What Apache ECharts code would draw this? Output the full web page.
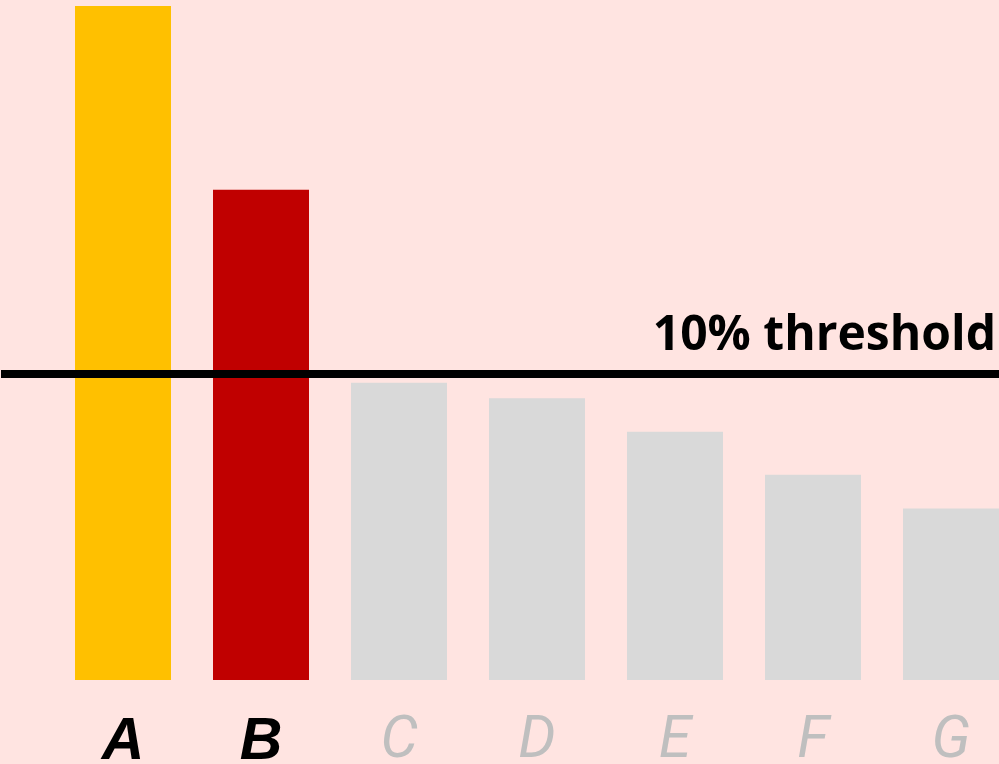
<!DOCTYPE html>
<html>
<head>
<meta charset="utf-8">
<script src="https://cdn.jsdelivr.net/npm/echarts@6/dist/echarts.min.js"></script>
<style>
html,body{margin:0;padding:0;background:#FFE4E1;}
#c{width:999px;height:764px;}
</style>
</head>
<body>
<div id="c"></div>
<script>
const categories = ['A', 'B', 'C', 'D', 'E', 'F', 'G'];
const values = [22, 16, 9.7, 9.2, 8.1, 6.7, 5.6];
const highlighted = ['A', 'B'];
const barColors = ['#FFC000', '#C00000', '#D9D9D9', '#D9D9D9', '#D9D9D9', '#D9D9D9', '#D9D9D9'];
const threshold = 10;
const thresholdLabel = '10% threshold';
const yMax = 22;

const chart = echarts.init(document.getElementById('c'), null, {renderer: 'canvas'});
chart.setOption({
  backgroundColor: '#FFE4E1',
  animation: false,
  grid: [
    {left: 54, top: 6, width: 966, height: 674, containLabel: false, outerBoundsMode: 'none'},
    {left: 1, top: 6, width: 998, height: 674, containLabel: false, outerBoundsMode: 'none'}
  ],
  xAxis: [
    {
      type: 'category', data: categories, gridIndex: 0,
      axisLine: {show: false}, axisTick: {show: false}, splitLine: {show: false},
      axisLabel: {
        interval: 0, margin: 33, fontSize: 59, hideOverlap: false,
        formatter: v => highlighted.includes(v) ? '{hi|' + v + '}' : '{lo|' + v + '}',
        rich: {
          hi: {fontFamily: 'Liberation Sans', fontStyle: 'italic', fontWeight: 'bold', fontSize: 59, lineHeight: 59, color: '#000000'},
          lo: {fontFamily: 'Roboto', fontStyle: 'italic', fontWeight: 'normal', fontSize: 59, lineHeight: 59, color: '#BFBFBF'}
        }
      }
    },
    {type: 'value', gridIndex: 1, min: 0, max: 1, show: false}
  ],
  yAxis: [
    {type: 'value', gridIndex: 0, min: 0, max: yMax, show: false, splitLine: {show: false}},
    {type: 'value', gridIndex: 1, min: 0, max: yMax, show: false, splitLine: {show: false}}
  ],
  series: [
    {
      type: 'bar', xAxisIndex: 0, yAxisIndex: 0, barWidth: 96,
      data: values.map((v, i) => ({value: v, itemStyle: {color: barColors[i]}}))
    },
    {
      type: 'line', xAxisIndex: 1, yAxisIndex: 1, data: [],
      markLine: {
        silent: true, symbol: 'none',
        lineStyle: {color: '#000000', width: 8, type: 'solid'},
        label: {
          show: true, position: 'insideEndTop', formatter: thresholdLabel,
          fontFamily: 'Open Sans', fontWeight: 'bold', fontSize: 48, lineHeight: 48,
          color: '#000000', distance: [3, 13]
        },
        data: [{yAxis: threshold}]
      }
    }
  ]
});
</script>
</body>
</html>
